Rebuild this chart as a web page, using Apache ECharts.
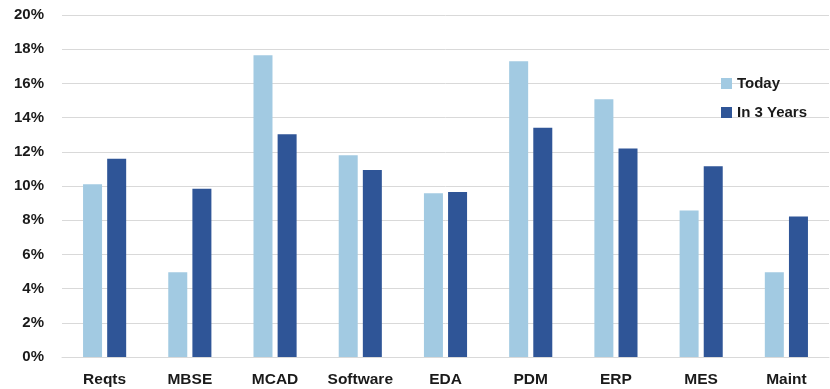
<!DOCTYPE html>
<html>
<head>
<meta charset="utf-8">
<script src="https://cdn.jsdelivr.net/npm/echarts@6/dist/echarts.min.js"></script>
<style>
  html, body { margin: 0; padding: 0; background: #fff; }
  #chart { width: 830px; height: 389px; }
</style>
</head>
<body>
<div id="chart"></div>
<script>
// Share of spend by software category, today vs. in three years (percent)
const categories = ['Reqts', 'MBSE', 'MCAD', 'Software', 'EDA', 'PDM', 'ERP', 'MES', 'Maint'];
const todayValues = [10.1, 4.95, 17.65, 11.8, 9.57, 17.3, 15.08, 8.56, 4.95];
const in3YearsValues = [11.6, 9.84, 13.02, 10.93, 9.65, 13.4, 12.2, 11.15, 8.22];
const seriesNames = ['Today', 'In 3 Years'];
const yTicks = { min: 0, max: 20, step: 2 };

const fontFamily = 'Liberation Sans, Arial, sans-serif';
const chart = echarts.init(document.getElementById('chart'));

chart.setOption({
  animation: false,
  backgroundColor: '#ffffff',
  grid: { left: 62, right: 1, top: 15, bottom: 32, containLabel: false },
  legend: {
    orient: 'vertical',
    left: 716,
    top: 71,
    itemWidth: 11,
    itemHeight: 11,
    itemGap: 14,
    icon: 'rect',
    textStyle: { fontFamily, fontWeight: 'bold', fontSize: 15, color: '#1a1a1a' },
    data: seriesNames
  },
  xAxis: {
    type: 'category',
    data: categories,
    axisTick: { show: false },
    axisLine: { lineStyle: { color: '#d9d9d9', width: 1 } },
    axisLabel: { fontFamily, fontWeight: 'bold', fontSize: 15.5, color: '#1a1a1a', margin: 15 }
  },
  yAxis: {
    type: 'value',
    min: yTicks.min,
    max: yTicks.max,
    interval: yTicks.step,
    axisLine: { show: false },
    axisTick: { show: false },
    splitLine: { lineStyle: { color: '#d9d9d9', width: 1 } },
    axisLabel: {
      fontFamily, fontWeight: 'bold', fontSize: 15, color: '#1a1a1a', margin: 18,
      formatter: v => v + '%'
    }
  },
  series: [
    {
      name: seriesNames[0],
      type: 'bar',
      data: todayValues,
      barWidth: 19,
      barGap: '27%',
      itemStyle: { color: '#a2cae2' }
    },
    {
      name: seriesNames[1],
      type: 'bar',
      data: in3YearsValues,
      barWidth: 19,
      barGap: '27%',
      itemStyle: { color: '#2f5597' }
    }
  ]
});
</script>
</body>
</html>
